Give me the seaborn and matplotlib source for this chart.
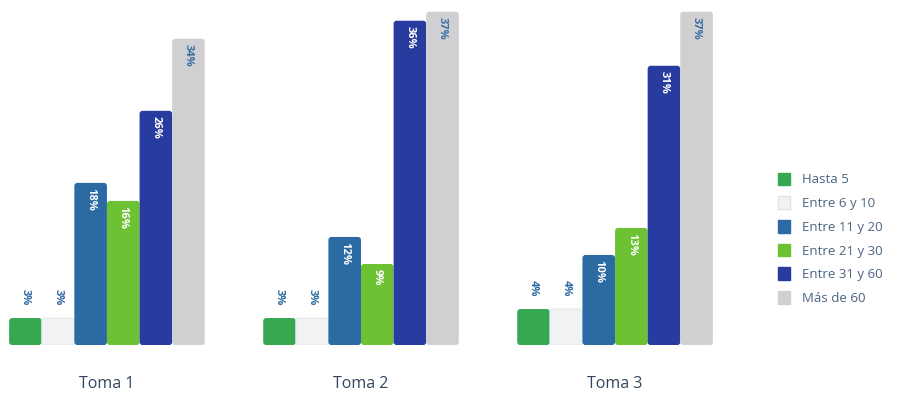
import matplotlib
matplotlib.use("Agg")
import matplotlib.pyplot as plt
import seaborn as sns
import pandas as pd
from matplotlib.patches import FancyBboxPatch, Patch

tomas = ["Toma 1", "Toma 2", "Toma 3"]
series = ["Hasta 5", "Entre 6 y 10", "Entre 11 y 20", "Entre 21 y 30", "Entre 31 y 60", "Más de 60"]
vals_t1 = [3, 3, 18, 16, 26, 34]
vals_t2 = [3, 3, 12, 9, 36, 37]
vals_t3 = [4, 4, 10, 13, 31, 37]
colors = ["#36a852", "#f1f2f4", "#2b6aa3", "#6cc232", "#283b9f", "#d0d0d2"]
label_in_colors = ["white", "#3b6ea3", "white", "white", "white", "#3b6ea3"]

rows = []
for t, vals in zip(tomas, [vals_t1, vals_t2, vals_t3]):
    for s, v in zip(series, vals):
        rows.append({"toma": t, "serie": s, "valor": v})
df = pd.DataFrame(rows)

sns.set_theme(style="white")
plt.rcParams["font.family"] = ["Open Sans", "DejaVu Sans"]

fig = plt.figure(figsize=(9.07, 3.98), dpi=100)
ax = fig.add_axes([0.0, 0.133, 0.805, 0.867])
sns.barplot(data=df, x="toma", y="valor", hue="serie", hue_order=series,
            palette=colors, width=0.77, dodge=True, ax=ax, legend=False,
            errorbar=None, saturation=1)

ax.set_xlim(-0.421, 2.453)
ax.set_ylim(0, 38.3)

fig.canvas.draw()
px_per_x = ax.bbox.width / (2.453 + 0.421)
px_per_y = ax.bbox.height / 38.3
aspect = px_per_x / px_per_y

patches = list(ax.patches)
for i, p in enumerate(patches):
    si = i // 3
    x, y, w, h = p.get_x(), p.get_y(), p.get_width(), p.get_height()
    p.set_visible(False)
    fb = FancyBboxPatch((x, y), w, h,
                        boxstyle="round,pad=0,rounding_size=0.012",
                        mutation_aspect=aspect,
                        facecolor=colors[si],
                        edgecolor="#e2e4e8" if si == 1 else "none",
                        linewidth=0.6)
    ax.add_patch(fb)
    cx = x + w / 2
    val = h
    if val >= 8:
        ax.text(cx, val - 0.6, f"{int(round(val))}%", rotation=270,
                ha="center", va="top", fontsize=8, fontweight="bold",
                color=label_in_colors[si])
    else:
        ax.text(cx, val + 1.4, f"{int(round(val))}%", rotation=270,
                ha="center", va="bottom", fontsize=8, fontweight="bold",
                color="#2f6aa3")

ax.set_xlabel("")
ax.set_ylabel("")
ax.set_yticks([])
ax.tick_params(axis="x", length=0, pad=22, labelsize=11.5, labelcolor="#34465c")
for sp in ax.spines.values():
    sp.set_visible(False)

handles = [Patch(facecolor=c, edgecolor=("#dfe3ea" if i == 1 else c), label=s)
           for i, (c, s) in enumerate(zip(colors, series))]
leg = fig.legend(handles=handles, loc="center left", bbox_to_anchor=(0.845, 0.4),
                 frameon=False, fontsize=9.5, handlelength=0.9, handleheight=1.1,
                 handletextpad=0.9, labelspacing=0.75)
for t in leg.get_texts():
    t.set_color("#4a6482")

fig.savefig("out.png", dpi=100)
